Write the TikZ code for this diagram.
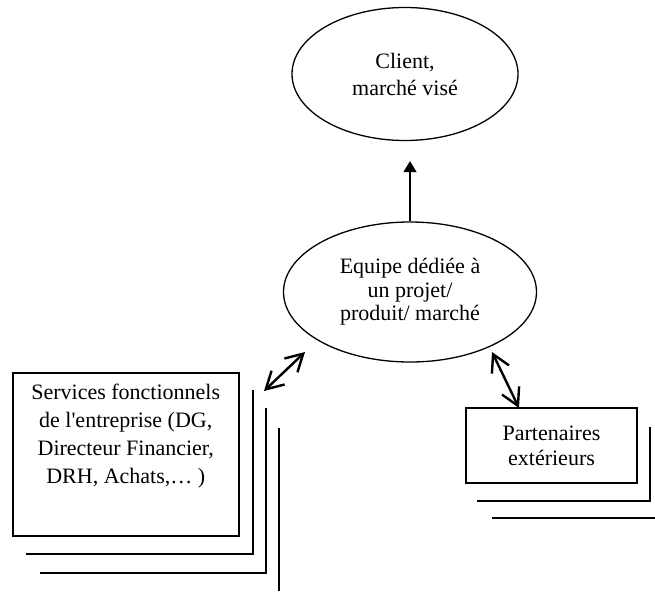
\documentclass[tikz,border=0pt]{standalone}
\usepackage{fontspec}
\setmainfont{Liberation Serif}
\usetikzlibrary{shapes.geometric,arrows.meta,calc}
\tikzset{
  oval/.style={draw, ellipse, line width=1.3pt, inner sep=0pt, align=center,
    font=\fontsize{22}{25}\selectfont},
  boxnode/.style={draw, rectangle, line width=1.5pt, inner sep=0pt, align=center,
    font=\fontsize{22}{25}\selectfont},
  shadowline/.style={line width=2pt},
  twoway/.style={line width=2.4pt, {Straight Barb[length=17pt,width=19pt]}-{Straight Barb[length=17pt,width=19pt]}},
  oneway/.style={line width=1.5pt, -{Triangle[length=11pt,width=13pt]}}
}
\begin{document}
\begin{tikzpicture}[x=1pt,y=-1pt]
\useasboundingbox (0,0) rectangle (655,591);
% ellipses
\node[oval, minimum width=226pt, minimum height=133pt,
  font=\fontsize{22}{27}\selectfont] (client) at (405,74) {Client,\\marché visé};
\node[oval, minimum width=253pt, minimum height=140pt,
  font=\fontsize{22}{23.5}\selectfont] (equipe) at (410,292) {Equipe dédiée à\\un projet/\\produit/ marché};
% boxes
\node[boxnode, anchor=north west, minimum width=226pt, minimum height=163pt] (serv) at (12,372)
  {\parbox[c][163pt][t]{226pt}{\centering\fontsize{22}{28}\selectfont\vspace*{11pt}Services fonctionnels\\de l\textquotesingle entreprise (DG,\\Directeur Financier,\\DRH, Achats,… )}};
\node[boxnode, minimum width=171pt, minimum height=75pt] (part) at (551.5,445.5) {Partenaires\\extérieurs};
% shadow lines of services
\draw[shadowline, line width=2.6pt] (26,554) -- (253,554) -- (253,390);
\draw[shadowline] (40,573) -- (266,573) -- (266,408);
\draw[shadowline] (279,428) -- (279,591);
% shadow lines of partenaires
\draw[shadowline] (477,501) -- (650,501) -- (650,427);
\draw[shadowline] (492,518) -- (655,518);
% connectors
\draw[oneway, shorten >=20pt] (equipe.north) -- (equipe.north |- client.south);
\coordinate (s1) at (264,391);
\coordinate (s2) at (305,352);
\draw[twoway] (s1) -- (s2);
\coordinate (p1) at (492,352);
\coordinate (p2) at (519,408);
\draw[twoway] (p1) -- (p2);
\end{tikzpicture}
\end{document}
